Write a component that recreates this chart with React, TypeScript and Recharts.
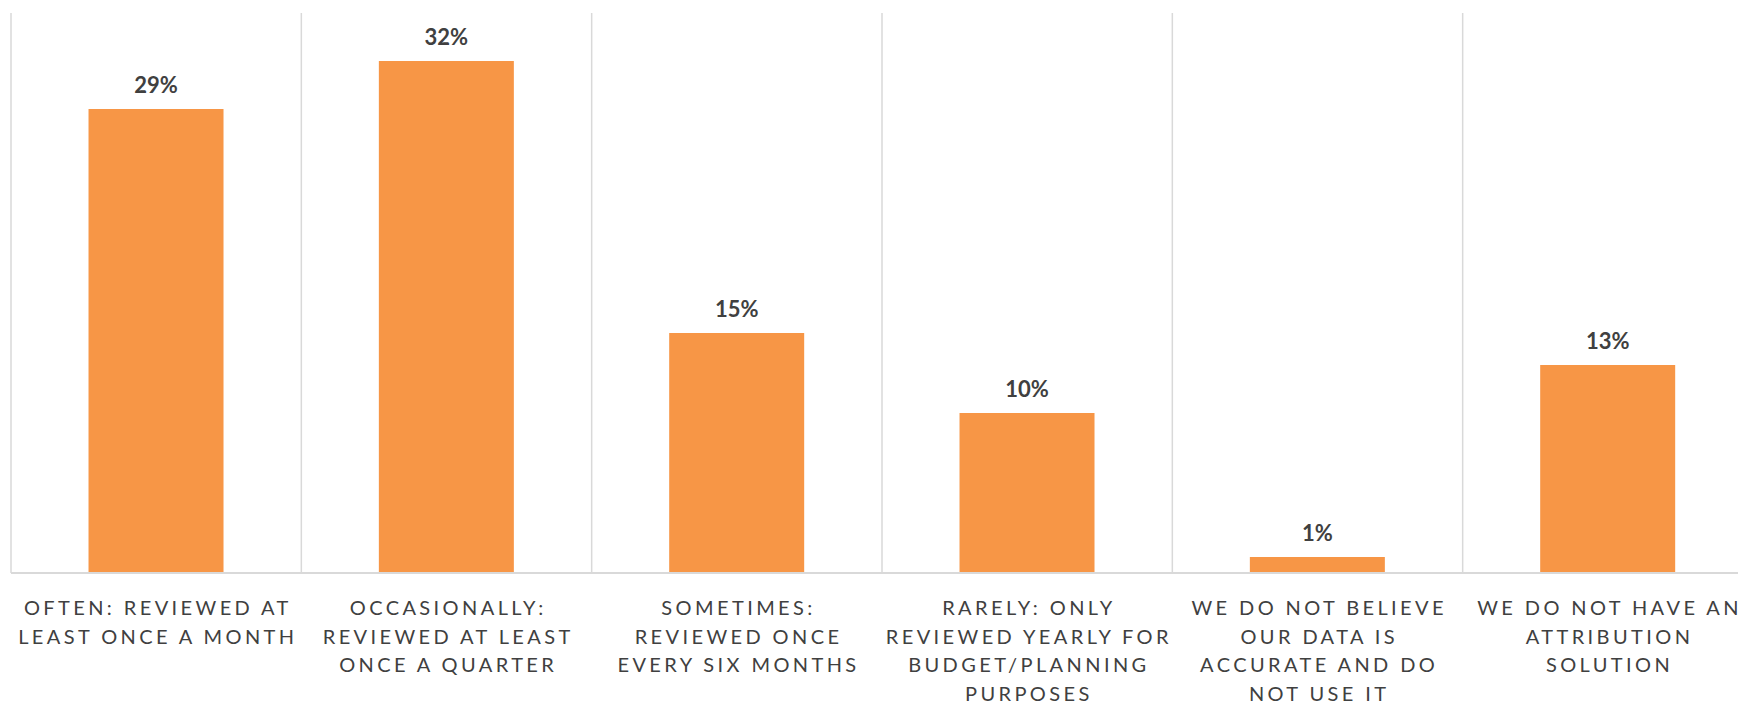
import React from 'react';
import { BarChart, Bar, XAxis, YAxis, CartesianGrid, LabelList } from 'recharts';

const categories = [
  'OFTEN: REVIEWED AT\nLEAST ONCE A MONTH',
  'OCCASIONALLY:\nREVIEWED AT LEAST\nONCE A QUARTER',
  'SOMETIMES:\nREVIEWED ONCE\nEVERY SIX MONTHS',
  'RARELY: ONLY\nREVIEWED YEARLY FOR\nBUDGET/PLANNING\nPURPOSES',
  'WE DO NOT BELIEVE\nOUR DATA IS\nACCURATE AND DO\nNOT USE IT',
  'WE DO NOT HAVE AN\nATTRIBUTION\nSOLUTION',
];

const shares = [29, 32, 15, 10, 1, 13];

const data = categories.map((name, i) => ({ name, value: shares[i] }));

const FONT = 'Lato, "Noto Sans", sans-serif';

const WrappedTick = (props: any) => {
  const { x, y, payload } = props;
  const lines: string[] = String(payload.value).split('\n');
  return (
    <text
      x={x}
      y={y}
      textAnchor="middle"
      fill="#404040"
      fontFamily={FONT}
      fontSize={20}
      letterSpacing={3.4}
    >
      {lines.map((line, i) => (
        <tspan key={i} x={x + 1.7} dy={i === 0 ? 34 : 28.5}>
          {line}
        </tspan>
      ))}
    </text>
  );
};

const gridAtBoundaries = ({ offset }: any) =>
  Array.from({ length: categories.length + 1 }, (_, i) => offset.left + (i * offset.width) / categories.length);

export default function App() {
  return (
    <div style={{ position: 'fixed', left: 0, top: 0, width: 1738, height: 705, overflow: 'hidden', background: '#fff' }}>
      <BarChart
        width={1770}
        height={705}
        data={data}
        margin={{ top: 13, right: 17, left: 11, bottom: 12 }}
        barCategoryGap="26.7%"
      >
        <CartesianGrid
          horizontal={false}
          stroke="#d9d9d9"
          strokeWidth={1.5}
          verticalCoordinatesGenerator={gridAtBoundaries}
        />
        <XAxis
          dataKey="name"
          height={120}
          interval={0}
          tickLine={false}
          axisLine={{ stroke: '#d9d9d9', strokeWidth: 2 }}
          tick={<WrappedTick />}
        />
        <YAxis hide domain={[0, 35]} />
        <Bar dataKey="value" fill="#f79646" isAnimationActive={false}>
          <LabelList
            dataKey="value"
            position="top"
            offset={16}
            formatter={(v: any) => `${v}%`}
            fill="#404040"
            fontFamily={FONT}
            fontWeight="bold"
            fontSize={22}
          />
        </Bar>
      </BarChart>
    </div>
  );
}
